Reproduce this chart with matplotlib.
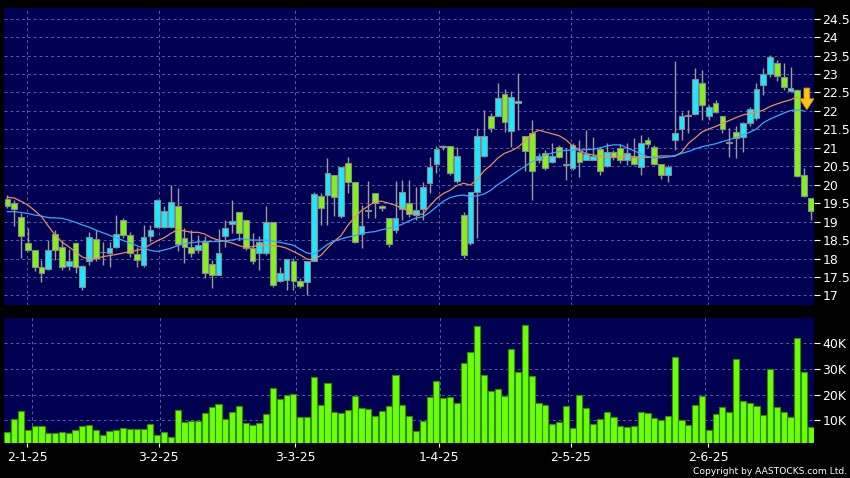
import numpy as np
import matplotlib
matplotlib.use('Agg')
import matplotlib.pyplot as plt

# daily candles, 27-12-24 .. 24-6-25 (HK trading days)
opens = [19.61, 19.50, 19.12, 18.41, 18.22, 17.76, 17.72, 18.66, 18.31, 17.81,
         18.41, 17.24, 17.92, 18.52, 18.18, 18.16, 18.31, 19.05, 18.63, 18.13,
         17.83, 18.60, 18.85, 18.85, 18.85, 19.43, 18.55, 18.30, 18.23, 18.46,
         17.85, 17.54, 18.60, 18.94, 19.27, 19.05, 18.28, 18.14, 18.14, 18.98,
         17.38, 17.42, 17.92, 17.38, 17.35, 17.92, 19.70, 19.72, 20.27, 19.14,
         20.60, 20.07, 18.66, 19.28, 19.77, 19.43, 19.11, 18.76, 19.35, 19.50,
         19.18, 19.34, 20.06, 20.56, 21.02, 21.05, 20.09, 19.18, 18.41, 19.79,
         20.79, 21.87, 21.87, 22.45, 21.46, 22.22, 21.31, 21.40, 20.67, 20.85,
         20.61, 21.01, 20.56, 20.44, 20.89, 20.67, 20.67, 20.96, 20.51, 20.89,
         20.99, 20.67, 20.74, 20.49, 21.21, 21.02, 20.55, 20.27, 21.22, 21.50,
         21.86, 21.92, 22.75, 21.87, 22.21, 21.85, 21.15, 21.44, 21.30, 21.67,
         21.80, 22.71, 23.00, 23.29, 22.93, 22.55, 22.57, 20.27, 19.63]
highs = [19.72, 19.59, 19.23, 18.82, 18.23, 17.96, 18.51, 18.78, 18.51, 18.25,
         18.45, 17.83, 18.72, 18.78, 18.46, 18.46, 19.18, 19.09, 18.73, 18.32,
         18.91, 18.91, 19.60, 19.41, 19.99, 19.90, 18.82, 18.77, 18.64, 18.60,
         17.96, 18.79, 19.05, 19.59, 19.27, 19.05, 18.68, 18.60, 19.41, 18.98,
         17.78, 17.98, 18.01, 17.47, 17.92, 19.79, 19.77, 20.72, 20.27, 20.49,
         20.76, 20.07, 19.45, 20.09, 19.77, 19.45, 19.11, 20.09, 20.13, 20.13,
         19.95, 20.08, 20.76, 21.05, 21.08, 21.05, 21.03, 19.27, 19.79, 21.53,
         22.03, 21.94, 22.75, 22.60, 22.53, 23.02, 21.31, 21.76, 20.85, 20.94,
         21.12, 21.08, 20.99, 21.12, 21.21, 21.47, 21.30, 21.03, 21.12, 20.94,
         21.10, 21.12, 21.26, 21.35, 21.30, 21.08, 20.55, 20.53, 23.34, 21.98,
         22.03, 23.16, 23.11, 22.16, 22.30, 21.87, 21.54, 21.58, 21.70, 22.12,
         22.75, 23.16, 23.52, 23.38, 23.29, 23.20, 22.59, 20.45, 19.63]
lows = [19.36, 18.87, 18.01, 18.20, 17.65, 17.37, 17.70, 17.96, 17.69, 17.69,
        17.60, 17.15, 17.83, 17.92, 17.83, 17.78, 18.28, 18.55, 18.05, 17.78,
        17.78, 18.46, 18.82, 18.82, 18.82, 18.20, 17.87, 18.05, 18.14, 17.47,
        17.19, 17.54, 18.32, 18.69, 18.50, 18.23, 17.85, 17.69, 18.10, 17.24,
        17.37, 17.15, 17.15, 17.20, 17.02, 17.92, 18.91, 18.91, 19.14, 19.09,
        19.77, 18.41, 18.28, 19.09, 19.09, 19.30, 18.32, 18.70, 19.05, 19.12,
        19.05, 19.05, 19.77, 20.31, 20.94, 20.27, 20.06, 18.01, 18.37, 18.55,
        20.75, 21.44, 21.85, 21.44, 21.03, 21.49, 20.36, 19.59, 20.58, 20.40,
        20.58, 20.72, 20.13, 20.40, 20.22, 20.67, 20.67, 20.27, 20.49, 20.67,
        20.60, 20.54, 20.54, 20.27, 21.03, 20.54, 20.15, 20.08, 20.95, 21.22,
        21.40, 21.89, 21.76, 21.75, 21.94, 21.40, 20.76, 20.72, 20.90, 21.60,
        21.76, 22.43, 22.93, 22.80, 22.57, 22.52, 20.22, 19.68, 19.05]
closes = [19.43, 19.34, 18.61, 18.23, 17.78, 17.60, 18.22, 18.23, 17.78, 17.92,
          17.77, 17.81, 18.59, 18.01, 18.17, 18.28, 18.66, 18.64, 18.14, 17.96,
          18.59, 18.78, 19.59, 19.29, 19.52, 18.40, 18.30, 18.16, 18.37, 17.60,
          17.54, 18.14, 18.83, 19.02, 18.70, 18.28, 17.92, 18.46, 18.98, 17.29,
          17.60, 17.98, 17.38, 17.26, 17.92, 19.74, 19.36, 20.31, 19.68, 20.49,
          20.07, 18.46, 18.88, 19.32, 19.50, 19.38, 18.40, 19.11, 19.80, 19.21,
          19.32, 19.95, 20.49, 20.96, 21.03, 20.31, 20.79, 18.10, 19.79, 21.31,
          21.32, 21.55, 22.34, 21.69, 22.39, 22.26, 20.92, 20.37, 20.79, 20.44,
          20.79, 20.75, 20.54, 21.08, 20.61, 20.84, 20.79, 20.37, 20.89, 20.75,
          20.67, 20.85, 20.56, 21.14, 21.10, 20.56, 20.27, 20.49, 21.40, 21.85,
          21.89, 22.86, 22.16, 22.10, 21.97, 21.50, 21.14, 21.26, 21.67, 22.05,
          22.59, 23.00, 23.46, 22.95, 22.64, 22.63, 20.24, 19.70, 19.30]
# volume in thousands
volumes = [5.4, 10.7, 13.8, 6.4, 7.9, 7.9, 5.2, 5.0, 5.6, 5.2,
           6.1, 7.9, 8.3, 6.4, 4.2, 5.9, 6.1, 7.0, 6.5, 6.5,
           6.8, 8.6, 4.5, 5.4, 3.4, 14.1, 9.2, 9.6, 9.9, 12.7,
           15.3, 16.2, 10.4, 13.4, 15.4, 9.0, 8.1, 9.1, 12.3, 22.7,
           18.2, 19.8, 20.1, 11.2, 11.3, 26.8, 15.8, 24.4, 13.1, 12.7,
           14.0, 19.6, 15.0, 14.4, 11.7, 13.5, 15.5, 27.6, 15.8, 11.6,
           6.0, 9.6, 19.1, 25.3, 18.6, 19.0, 16.7, 32.2, 36.6, 46.6,
           27.7, 21.4, 22.2, 19.3, 37.8, 28.9, 47.1, 27.1, 16.7, 15.9,
           8.5, 9.2, 15.7, 7.0, 19.9, 14.7, 8.6, 10.5, 13.2, 11.4,
           7.9, 7.4, 7.8, 13.1, 12.9, 11.0, 10.0, 11.8, 34.6, 10.0,
           8.2, 15.9, 19.6, 6.4, 12.5, 15.3, 13.1, 33.7, 17.6, 16.6,
           15.5, 12.2, 29.8, 15.2, 13.4, 11.3, 42.1, 28.9, 7.6]
# moving average lines as drawn on the chart
ma_short = [19.66, 19.64, 19.55, 19.45, 19.30, 19.14, 18.88, 18.64, 18.45, 18.32,
            18.18, 18.04, 17.98, 17.99, 18.05, 18.08, 18.11, 18.15, 18.19, 18.22,
            18.27, 18.38, 18.48, 18.56, 18.68, 18.78, 18.75, 18.71, 18.71, 18.66,
            18.56, 18.50, 18.47, 18.42, 18.35, 18.30, 18.32, 18.37, 18.35, 18.35,
            18.33, 18.28, 18.19, 18.10, 17.98, 17.97, 18.08, 18.28, 18.47, 18.62,
            18.90, 19.12, 19.30, 19.42, 19.55, 19.55, 19.50, 19.44, 19.36, 19.28,
            19.20, 19.20, 19.42, 19.62, 19.76, 19.85, 19.98, 20.04, 19.99, 20.14,
            20.38, 20.53, 20.72, 20.85, 20.92, 21.02, 21.18, 21.37, 21.48, 21.43,
            21.38, 21.33, 21.22, 21.05, 20.94, 20.84, 20.81, 20.78, 20.76, 20.75,
            20.74, 20.78, 20.76, 20.75, 20.74, 20.76, 20.78, 20.78, 20.77, 20.88,
            21.12, 21.27, 21.43, 21.51, 21.58, 21.66, 21.74, 21.82, 21.89, 21.93,
            21.96, 22.02, 22.12, 22.19, 22.25, 22.30, 22.38, np.nan, np.nan]
ma_long = [19.27, 19.27, 19.25, 19.22, 19.18, 19.15, 19.11, 19.10, 19.09, 19.04,
           18.98, 18.91, 18.85, 18.77, 18.70, 18.63, 18.56, 18.49, 18.42, 18.35,
           18.28, 18.22, 18.19, 18.23, 18.28, 18.35, 18.40, 18.43, 18.45, 18.46,
           18.46, 18.46, 18.48, 18.50, 18.54, 18.52, 18.50, 18.50, 18.50, 18.47,
           18.44, 18.40, 18.36, 18.25, 18.15, 18.12, 18.24, 18.38, 18.47, 18.53,
           18.58, 18.62, 18.68, 18.71, 18.73, 18.78, 18.82, 18.86, 18.93, 19.02,
           19.10, 19.13, 19.25, 19.40, 19.55, 19.65, 19.70, 19.72, 19.68, 19.70,
           19.75, 19.85, 20.00, 20.12, 20.25, 20.38, 20.50, 20.62, 20.72, 20.80,
           20.86, 20.90, 20.93, 20.94, 20.94, 20.95, 20.96, 21.00, 21.05, 21.08,
           21.08, 21.00, 20.92, 20.84, 20.76, 20.72, 20.73, 20.75, 20.79, 20.85,
           20.90, 20.97, 21.03, 21.07, 21.11, 21.17, 21.22, 21.28, 21.35, 21.42,
           21.51, 21.68, 21.78, 21.86, 21.94, 22.01, 22.03, 22.00, np.nan]

tick_labels = ['2-1-25', '3-2-25', '3-3-25', '1-4-25', '2-5-25', '2-6-25']
tick_pos = [2.9, 22.2, 42.3, 63.4, 82.7, 102.9]
grid_pos = [3.6, 22.4, 42.4, 63.5, 82.3, 102.5]

BG = '#000052'
UP = '#1ee8ff'
DOWN = '#84f01e'
GRID = '#5c5ca8'

x = np.arange(len(closes))
o = np.array(opens)
c = np.array(closes)
body_bottom = np.minimum(o, c)
body_h = np.maximum(np.abs(c - o), 0.02)
body_col = [UP if cc >= oo else DOWN for oo, cc in zip(o, c)]

fig = plt.figure(figsize=(8.5, 4.78), dpi=100, facecolor='black')
ax = fig.add_axes([4 / 850, 1 - 305 / 478, 810 / 850, 297 / 478], facecolor=BG)
axv = fig.add_axes([4 / 850, 1 - 443 / 478, 810 / 850, 125 / 478], facecolor=BG, sharex=ax)

# price panel
ax.vlines(x, lows, highs, color='#9c9c9c', linewidth=1.0, zorder=2)
ax.bar(x, body_h, bottom=body_bottom, width=0.85, color=body_col,
       edgecolor='#8a8a8a', linewidth=0.8, zorder=3)
ax.plot(x, ma_short, color='#e8905a', linewidth=0.9, zorder=4)
ax.plot(x, ma_long, color='#3ea6ff', linewidth=0.9, zorder=4)

# signal arrow at the end
arrow_x = 117.4
ax.arrow(arrow_x, 22.62, 0, -0.59, width=0.85, head_width=2.1, head_length=0.30,
         length_includes_head=True, facecolor='#ffc21a', edgecolor='#d08a00',
         linewidth=0.6, zorder=5)

ax.set_ylim(16.74, 24.79)
ax.set_xlim(-0.5, 118.45)
ax.yaxis.tick_right()
ax.set_yticks(np.arange(17, 24.51, 0.5))
ax.set_yticklabels(['%g' % v for v in np.arange(17, 24.51, 0.5)])
ax.tick_params(axis='y', colors='white', labelsize=9, length=4, width=0.8, pad=2)
ax.tick_params(axis='x', bottom=False, labelbottom=False)
ax.set_xticks(grid_pos)
ax.grid(True, color=GRID, linestyle=(0, (3, 3)), linewidth=0.7)
ax.set_axisbelow(True)

# volume panel
axv.bar(x, volumes, width=0.9, color='#6cff0a', edgecolor='#2f8f00', linewidth=0.8, zorder=3)
axv.set_ylim(1.24, 49.7)
axv.yaxis.tick_right()
axv.set_yticks([10, 20, 30, 40])
axv.set_yticklabels(['10K', '20K', '30K', '40K'])
axv.tick_params(axis='y', colors='white', labelsize=9, length=4, width=0.8, pad=2)
axv.grid(True, axis='y', color=GRID, linestyle=(0, (3, 3)), linewidth=0.7)
for g in grid_pos:
    axv.axvline(g, color=GRID, linestyle=(0, (3, 3)), linewidth=0.7, zorder=1)
axv.set_axisbelow(True)
axv.set_xticks(tick_pos)
axv.set_xticklabels(tick_labels)
axv.tick_params(axis='x', colors='white', labelsize=9, length=3, width=0.8, pad=3)

for a in (ax, axv):
    for s in a.spines.values():
        s.set_visible(False)

fig.text(847 / 850, 1 - 471 / 478, 'Copyright by AASTOCKS.com Ltd.', color='white',
         fontsize=6.6, ha='right', va='center')

fig.savefig('out.png', dpi=100, facecolor='black')
